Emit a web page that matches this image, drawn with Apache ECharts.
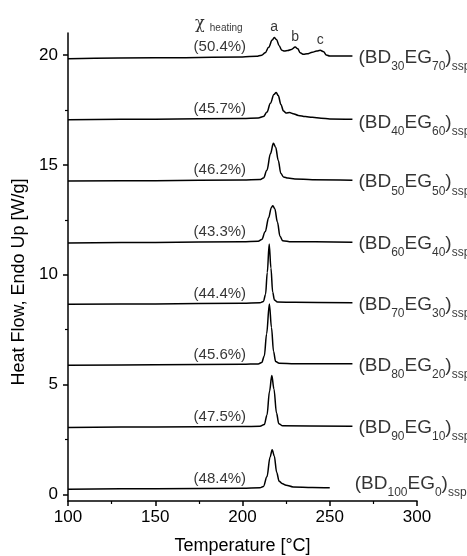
<!DOCTYPE html>
<html>
<head>
<meta charset="utf-8">
<script src="https://cdn.jsdelivr.net/npm/echarts@6/dist/echarts.min.js"></script>
<style>
  html, body { margin: 0; padding: 0; background: #ffffff; }
  #chart { width: 467px; height: 556px; }
</style>
</head>
<body>
<div id="chart"></div>
<script>
// Copolyester compositions (BD / EG content) and heating crystallinity
const bdContent = ['30', '40', '50', '60', '70', '80', '90', '100'];
const egContent = ['70', '60', '50', '40', '30', '20', '10', '0'];
const chiHeating = ['50.4%', '45.7%', '46.2%', '43.3%', '44.4%', '45.6%', '47.5%', '48.4%'];

// DSC heating traces: [temperature °C, heat flow W/g (stacked)]
const bd30eg70 = [[100,19.83],[150,19.87],[200,19.91],[208,19.94],[211,19.99],[213,20.1],[215,20.35],[217,20.68],[218.2,20.79],[219.5,20.7],[221,20.42],[222.5,20.22],[224,20.18],[226,20.2],[228,20.25],[230.2,20.36],[231.7,20.28],[233,20.1],[235,20.03],[237,20.05],[240,20.12],[242.5,20.18],[244.5,20.21],[246.5,20.15],[248,20.0],[250,19.95],[263,19.95]];
const bd40eg60 = [[100,17.05],[150,17.08],[200,17.11],[209,17.13],[212,17.2],[214,17.4],[216,17.8],[218,18.2],[219.3,18.29],[220.5,18.15],[222,17.75],[223.5,17.45],[225,17.36],[227,17.38],[229,17.33],[232,17.25],[236,17.2],[240,17.16],[245,17.12],[250,17.09],[263,17.08]];
const bd50eg50 = [[100,14.26],[150,14.28],[200,14.31],[210,14.33],[212,14.4],[214,14.75],[216,15.5],[217.7,15.98],[219,15.8],[220.5,15.2],[222,14.6],[223.5,14.45],[226,14.4],[230,14.36],[240,14.32],[263,14.3]];
const bd60eg40 = [[100,11.44],[150,11.47],[200,11.5],[209,11.52],[211,11.6],[213,11.95],[215,12.6],[216.5,13.05],[217.4,13.14],[218.5,13.0],[220,12.4],[221.5,11.75],[223,11.55],[228,11.5],[263,11.48]];
const bd70eg30 = [[100,8.65],[150,8.67],[200,8.7],[210,8.72],[212,8.78],[213.2,9.1],[214.2,10.1],[215.3,11.4],[216.3,10.3],[217.3,9.2],[218.3,8.85],[220,8.76],[230,8.74],[263,8.72]];
const bd80eg20 = [[100,5.88],[150,5.9],[200,5.92],[209,5.94],[211,6.0],[212.5,6.3],[213.8,7.3],[215.4,8.67],[216.6,7.6],[217.8,6.5],[219,6.05],[221,5.97],[230,5.95],[263,5.95]];
const bd90eg10 = [[100,3.05],[150,3.07],[200,3.09],[210,3.1],[212.5,3.18],[214,3.6],[215.5,4.7],[216.8,5.41],[218,4.8],[219.5,3.7],[220.8,3.22],[223,3.12],[263,3.1]];
const bd100eg0 = [[100,0.24],[150,0.26],[200,0.28],[210,0.3],[212,0.36],[214,0.8],[215.8,1.7],[217,2.03],[218.2,1.75],[219.6,1.0],[221,0.6],[222.6,0.5],[225,0.42],[229,0.34],[240,0.31],[250,0.3]];

const curves = [bd30eg70, bd40eg60, bd50eg50, bd60eg40, bd70eg30, bd80eg20, bd90eg10, bd100eg0];

// Melting peaks marked on the BD30/EG70 trace
const peakNames = ['a', 'b', 'c'];
const peakTemps = [218.2, 230.2, 244.5];

// Axis ticks
const xTicks = [100, 150, 200, 250, 300];
const yTicks = [0, 5, 10, 15, 20];
const yMinorTicks = [2.5, 7.5, 12.5, 17.5];

// Temperature at which the crystallinity labels sit
const chiLabelTemp = 187;

// Pixel nudges for the composition labels at the end of each trace
const nameShift = [[6, 2], [6, 4], [6, 2], [6, 2], [6, 2], [6, 2], [6, 1], [25, -4]];

const FONT = "'Liberation Sans', Arial, Helvetica, sans-serif";

function valueAt(curve, t) {
  for (let i = 0; i < curve.length - 1; i++) {
    const a = curve[i], b = curve[i + 1];
    if (t >= a[0] && t <= b[0]) {
      return a[1] + (b[1] - a[1]) * (t - a[0]) / (b[0] - a[0]);
    }
  }
  return curve[curve.length - 1][1];
}

const chart = echarts.init(document.getElementById('chart'), null, { renderer: 'canvas' });

const lineSeries = curves.map((c, i) => ({
  type: 'line',
  name: 'BD' + bdContent[i] + 'EG' + egContent[i],
  data: c,
  showSymbol: false,
  symbol: 'none',
  smooth: 0.35,
  smoothMonotone: 'x',
  lineStyle: { color: '#000', width: 1.5 },
  silent: true,
  z: 3
}));

const sub = { fontSize: 12, fontFamily: FONT, color: '#000', lineHeight: 24, padding: [18, 0, 0, 0] };
const main = { fontSize: 19, fontFamily: FONT, color: '#000', lineHeight: 24 };

const nameLabels = {
  type: 'scatter',
  symbolSize: 0,
  silent: true,
  data: curves.map((c, i) => {
    const end = c[c.length - 1];
    return {
      value: [end[0], end[1]],
      label: {
        show: true,
        position: [0, 0],
        align: 'left',
        verticalAlign: 'middle',
        offset: nameShift[i],
        formatter: '{m|(BD}{s|' + bdContent[i] + '}{m|EG}{s|' + egContent[i] + '}{m|)}{s|ssp}',
        rich: { m: main, s: sub }
      }
    };
  })
};

const chiLabels = {
  type: 'scatter',
  symbolSize: 0,
  silent: true,
  data: curves.map((c, i) => ({
    value: [chiLabelTemp, valueAt(c, chiLabelTemp)],
    label: {
      show: true,
      position: [0, 0],
      align: 'center',
      verticalAlign: 'middle',
      offset: [0, -10],
      formatter: '(' + chiHeating[i] + ')',
      fontSize: 15,
      fontFamily: FONT,
      color: '#000'
    }
  }))
};

const chiTitle = {
  type: 'scatter',
  symbolSize: 0,
  silent: true,
  data: [{
    value: [chiLabelTemp, valueAt(curves[0], chiLabelTemp)],
    label: {
      show: true,
      position: [0, 0],
      align: 'center',
      verticalAlign: 'middle',
      offset: [-1, -33],
      formatter: '{c|χ }{h|heating}',
      rich: {
        c: { fontFamily: "'DejaVu Serif', serif", fontSize: 16, color: '#000', lineHeight: 18 },
        h: { fontFamily: FONT, fontSize: 10, color: '#000', lineHeight: 18, padding: [8, 0, 0, 0] }
      }
    }
  }]
};

const peakLabels = {
  type: 'scatter',
  symbolSize: 0,
  silent: true,
  data: peakNames.map((p, i) => ({
    value: [peakTemps[i], valueAt(curves[0], peakTemps[i])],
    label: {
      show: true,
      position: [0, 0],
      align: 'center',
      verticalAlign: 'middle',
      offset: [0, -10],
      formatter: p,
      fontSize: 14,
      fontFamily: FONT,
      color: '#000'
    }
  }))
};

const axisLineStyle = { color: '#000', width: 1.5 };

chart.setOption({
  animation: false,
  backgroundColor: '#ffffff',
  grid: {
    left: 68, right: 50, top: 33, bottom: 55,
    containLabel: false,
    outerBoundsMode: 'none'
  },
  xAxis: {
    type: 'value',
    min: xTicks[0],
    max: xTicks[xTicks.length - 1],
    interval: 50,
    name: 'Temperature [°C]',
    nameLocation: 'middle',
    nameGap: 36,
    nameTextStyle: { fontSize: 18, fontFamily: FONT, color: '#000' },
    axisLine: { show: true, onZero: false, lineStyle: axisLineStyle },
    axisTick: { show: true, inside: false, length: 5, lineStyle: axisLineStyle },
    minorTick: { show: true, splitNumber: 2, length: 3, lineStyle: { color: '#000', width: 1.2 } },
    axisLabel: { show: true, fontSize: 17, fontFamily: FONT, color: '#000', margin: 8, showMinLabel: true, showMaxLabel: true },
    splitLine: { show: false },
    minorSplitLine: { show: false }
  },
  yAxis: [{
    type: 'value',
    min: -0.3,
    max: 21,
    position: 'left',
    name: 'Heat Flow, Endo Up [W/g]',
    nameLocation: 'middle',
    nameGap: 40,
    nameRotate: 90,
    nameTextStyle: { fontSize: 18, fontFamily: FONT, color: '#000', padding: [0, 30, 0, 0] },
    axisLine: { show: true, onZero: false, lineStyle: axisLineStyle },
    axisTick: { show: true, inside: false, length: 5, customValues: yTicks, lineStyle: axisLineStyle },
    axisLabel: { show: true, fontSize: 17, fontFamily: FONT, color: '#000', margin: 10, customValues: yTicks },
    splitLine: { show: false }
  }, {
    type: 'value',
    min: -0.3,
    max: 21,
    position: 'left',
    axisLine: { show: false },
    axisTick: { show: true, inside: false, length: 3, customValues: yMinorTicks, lineStyle: { color: '#000', width: 1.2 } },
    axisLabel: { show: false },
    splitLine: { show: false }
  }],
  series: [...lineSeries, nameLabels, chiLabels, chiTitle, peakLabels]
});
</script>
</body>
</html>
